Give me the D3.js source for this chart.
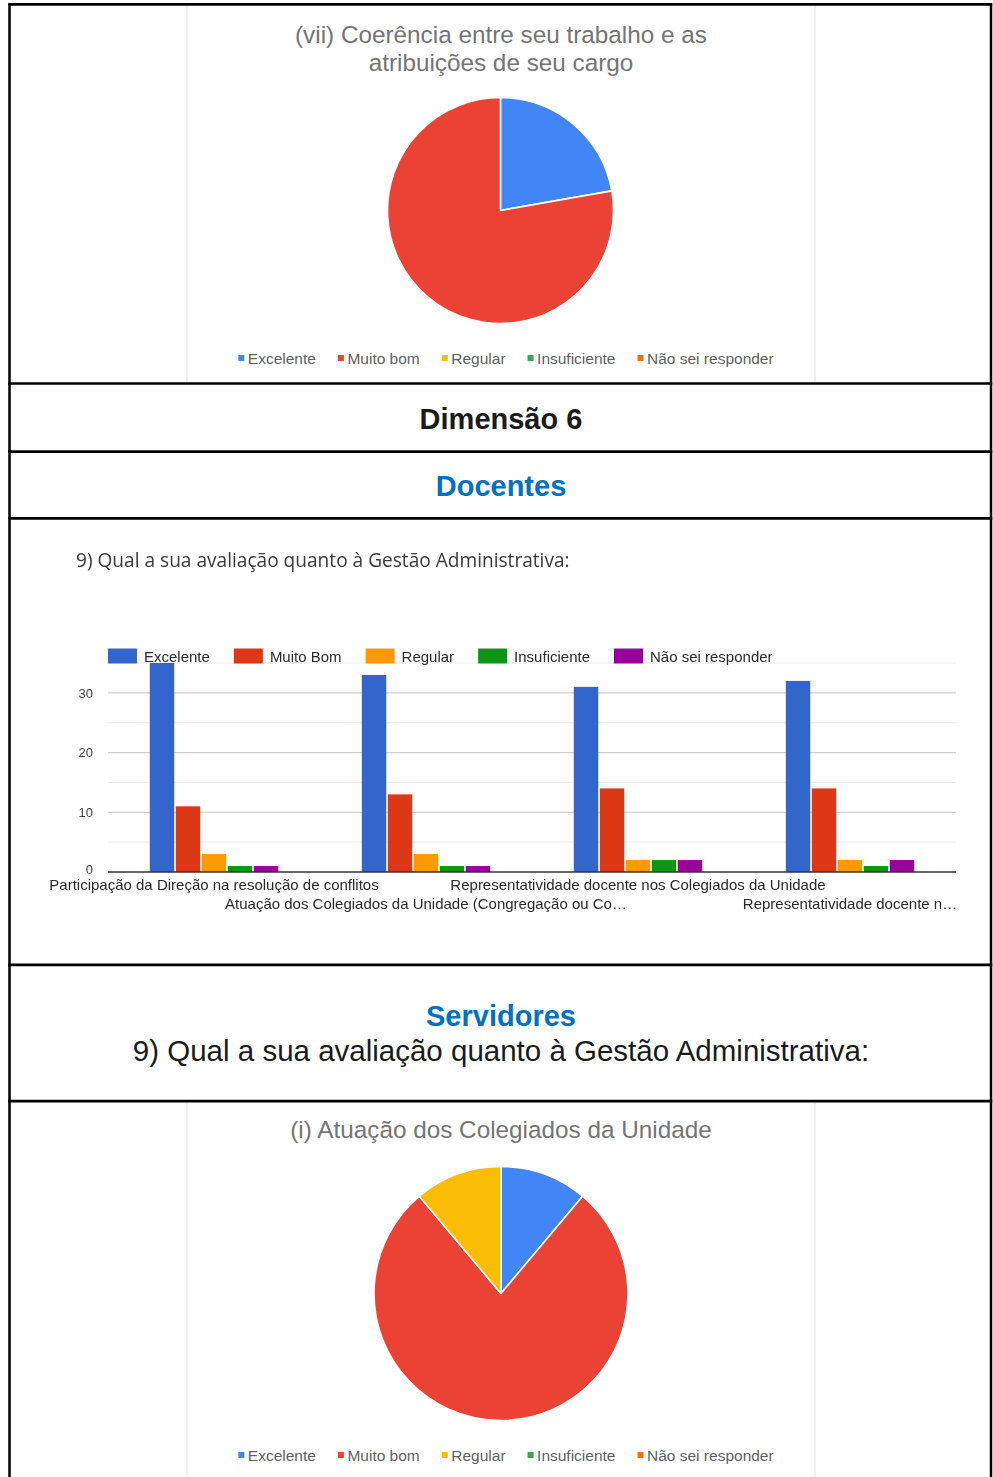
<!DOCTYPE html>
<html>
<head>
<meta charset="utf-8">
<script src="https://cdn.jsdelivr.net/npm/d3@7"></script>
<style>
  body { margin: 0; background: #fff; }
  svg { display: block; }
</style>
</head>
<body>
<script>
// ---- Pie charts (Servidores / questionário) ----
const pieCategories = ["Excelente", "Muito bom", "Regular", "Insuficiente", "Não sei responder"];
const pieColors = ["#4285F4", "#EA4335", "#FBBC04", "#34A853", "#FF6D01"];
const coerenciaCounts = [2, 7, 0, 0, 0];
const colegiadosCounts = [1, 7, 1, 0, 0];
const coerenciaTitle = ["(vii) Coerência entre seu trabalho e as", "atribuições de seu cargo"];
const colegiadosTitle = ["(i) Atuação dos Colegiados da Unidade"];

// ---- Grouped bar chart (Docentes) ----
const barTitle = "9) Qual a sua avaliação quanto à Gestão Administrativa:";
const barCategories = [
  "Participação da Direção na resolução de conflitos",
  "Atuação dos Colegiados da Unidade (Congregação ou Co…",
  "Representatividade docente nos Colegiados da Unidade",
  "Representatividade docente n…"
];
const barSeries = ["Excelente", "Muito Bom", "Regular", "Insuficiente", "Não sei responder"];
const barColors = ["#3366CC", "#DC3912", "#FF9900", "#109618", "#990099"];
const excelenteVals = [35, 33, 31, 32];
const muitoBomVals = [11, 13, 14, 14];
const regularVals = [3, 3, 2, 2];
const insuficienteVals = [1, 1, 2, 1];
const naoSeiVals = [1, 1, 2, 2];
const yTickValues = [0, 10, 20, 30];
const yMinorValues = [5, 15, 25, 35];

// ---- Section headings ----
const dimensaoHeading = "Dimensão 6";
const docentesHeading = "Docentes";
const servidoresHeading = "Servidores";
const servidoresQuestion = "9) Qual a sua avaliação quanto à Gestão Administrativa:";

const W = 993, H = 1477;
const svg = d3.select("body").append("svg").attr("width", W).attr("height", H);
const SANS = "'Liberation Sans', Arial, Helvetica, sans-serif";

// ---------- table grid ----------
const tableLeft = 9.5, tableRight = 991;
const rowLines = [4.3, 383.5, 451.7, 518.3, 964.8, 1101.2];
const grid = svg.append("g").attr("class", "table-grid");

// light frames of the embedded chart images
[[5, 382], [1102.5, H]].forEach(([y0, y1]) => {
  [187, 815].forEach(x => {
    grid.append("line").attr("x1", x).attr("x2", x).attr("y1", y0).attr("y2", y1)
      .attr("stroke", "#e2e2e2").attr("stroke-width", 1);
  });
});

rowLines.forEach(y => {
  grid.append("line").attr("x1", tableLeft - 1.3).attr("x2", tableRight + 1.3)
    .attr("y1", y).attr("y2", y).attr("stroke", "#000").attr("stroke-width", 2.7);
});
[tableLeft, tableRight].forEach(x => {
  grid.append("line").attr("x1", x).attr("x2", x).attr("y1", rowLines[0]).attr("y2", H)
    .attr("stroke", "#000").attr("stroke-width", 2.5);
});

// ---------- headings ----------
const heading = (txt, y, opts) => svg.append("text")
  .attr("x", 501).attr("y", y).attr("text-anchor", "middle")
  .attr("font-family", SANS).attr("font-size", opts.size)
  .attr("font-weight", opts.weight || "normal").attr("fill", opts.color)
  .text(txt);

heading(dimensaoHeading, 428.5, { size: 29, weight: "bold", color: "#1b1b1b" });
heading(docentesHeading, 496, { size: 29, weight: "bold", color: "#0070C0" });
heading(servidoresHeading, 1026, { size: 29, weight: "bold", color: "#0070C0" });
heading(servidoresQuestion, 1061, { size: 29.5, color: "#1b1b1b" });

// ---------- pie chart helper ----------
function drawPie(counts, titleLines, o) {
  const g = svg.append("g");
  titleLines.forEach((t, i) => {
    g.append("text").attr("x", 501).attr("y", o.titleY + i * 28)
      .attr("text-anchor", "middle").attr("font-family", SANS)
      .attr("font-size", 24.3).attr("fill", "#757575").text(t);
  });

  const data = pieCategories.map((c, i) => ({ cat: c, value: counts[i], color: pieColors[i] }));
  const pie = d3.pie().sort(null).value(d => d.value);
  const arc = d3.arc().innerRadius(0).outerRadius(o.r);
  g.append("g").attr("transform", `translate(${o.cx},${o.cy})`)
    .selectAll("path").data(pie(data).filter(d => d.data.value > 0)).join("path")
    .attr("d", arc).attr("fill", d => d.data.color)
    .attr("stroke", "#fff").attr("stroke-width", 1.6).attr("stroke-linejoin", "round");

  // legend: small square + label, centred under the pie
  const lg = g.append("g");
  const items = lg.selectAll("g").data(data).join("g");
  items.append("rect").attr("width", 6).attr("height", 6).attr("y", -3)
    .attr("fill", d => d.color);
  items.append("text").attr("x", 9.5).attr("y", 5.5)
    .attr("font-family", SANS).attr("font-size", 15.5).attr("fill", "#5f5f5f")
    .text(d => d.cat);
  let x = 0;
  items.each(function () {
    d3.select(this).attr("transform", `translate(${x},0)`);
    x += 9.5 + d3.select(this).select("text").node().getComputedTextLength() + 22;
  });
  const total = x - 22;
  lg.attr("transform", `translate(${506 - total / 2},${o.legendY})`);
}

drawPie(coerenciaCounts, coerenciaTitle, { cx: 500.5, cy: 210.5, r: 113, titleY: 43, legendY: 358 });
drawPie(colegiadosCounts, colegiadosTitle, { cx: 501, cy: 1293.5, r: 127, titleY: 1138, legendY: 1455 });

// ---------- grouped bar chart ----------
const defs = svg.append("defs");
defs.append("filter").attr("id", "soft").attr("x", "-5%").attr("y", "-5%")
  .attr("width", "110%").attr("height", "110%")
  .append("feGaussianBlur").attr("stdDeviation", 0.55);

const bc = svg.append("g").attr("filter", "url(#soft)");
const plotL = 108, plotR = 956, plotB = 872, plotT = 663;

bc.append("text").attr("x", 76).attr("y", 567)
  .attr("font-family", "'Open Sans', sans-serif").attr("font-size", 19.1).attr("fill", "#3a3a3a")
  .text(barTitle);

const seriesValues = [excelenteVals, muitoBomVals, regularVals, insuficienteVals, naoSeiVals];
const x0 = d3.scaleBand().domain(barCategories).range([plotL, plotR])
  .paddingInner(0.387).paddingOuter(0.1935);
const x1 = d3.scaleBand().domain(barSeries).range([0, x0.bandwidth()])
  .paddingInner(0.06).paddingOuter(0.03);
const y = d3.scaleLinear().domain([0, 35]).range([plotB, plotT]);
const color = d3.scaleOrdinal().domain(barSeries).range(barColors);

// gridlines
bc.append("g").selectAll("line").data(yMinorValues).join("line")
  .attr("x1", plotL).attr("x2", plotR).attr("y1", d => y(d)).attr("y2", d => y(d))
  .attr("stroke", "#ececec").attr("stroke-width", 1);
bc.append("g").selectAll("line").data(yTickValues.filter(v => v > 0)).join("line")
  .attr("x1", plotL).attr("x2", plotR).attr("y1", d => y(d)).attr("y2", d => y(d))
  .attr("stroke", "#d0d0d0").attr("stroke-width", 1.2);

// bars
const groups = bc.append("g").selectAll("g").data(barCategories).join("g")
  .attr("transform", d => `translate(${x0(d)},0)`);
groups.selectAll("rect")
  .data((cat, ci) => barSeries.map((s, si) => ({ s, v: seriesValues[si][ci] })))
  .join("rect")
  .attr("x", d => x1(d.s)).attr("width", x1.bandwidth())
  .attr("y", d => y(d.v)).attr("height", d => y(0) - y(d.v))
  .attr("fill", d => color(d.s));

// baseline
bc.append("line").attr("x1", plotL).attr("x2", plotR).attr("y1", y(0)).attr("y2", y(0))
  .attr("stroke", "#333").attr("stroke-width", 1.4);

// y axis labels (the zero label sits just above the category labels)
const yAxis = bc.append("g").attr("transform", "translate(93,0)")
  .call(d3.axisLeft(y).tickValues(yTickValues).tickSize(0).tickPadding(0));
yAxis.select(".domain").remove();
yAxis.selectAll("text").attr("font-family", SANS).attr("font-size", 13).attr("fill", "#444")
  .attr("dy", d => d === 0 ? "0.1em" : "0.32em");

// x category labels, staggered on two rows
bc.append("g").selectAll("text").data(barCategories).join("text")
  .attr("x", d => x0(d) + x0.bandwidth() / 2)
  .attr("y", (d, i) => i % 2 === 0 ? 889.5 : 909)
  .attr("text-anchor", "middle").attr("font-family", SANS)
  .attr("font-size", 15).attr("fill", "#2a2a2a")
  .text(d => d);

// legend above the plot
const blg = bc.append("g").attr("transform", `translate(${plotL},656)`);
let lx = 0;
barSeries.forEach(s => {
  const it = blg.append("g").attr("transform", `translate(${lx},0)`);
  it.append("rect").attr("y", -7.5).attr("width", 29).attr("height", 15).attr("fill", color(s));
  const t = it.append("text").attr("x", 36).attr("y", 5.5)
    .attr("font-family", SANS).attr("font-size", 15).attr("fill", "#2a2a2a").text(s);
  lx += 36 + t.node().getComputedTextLength() + 24;
});
</script>
</body>
</html>
